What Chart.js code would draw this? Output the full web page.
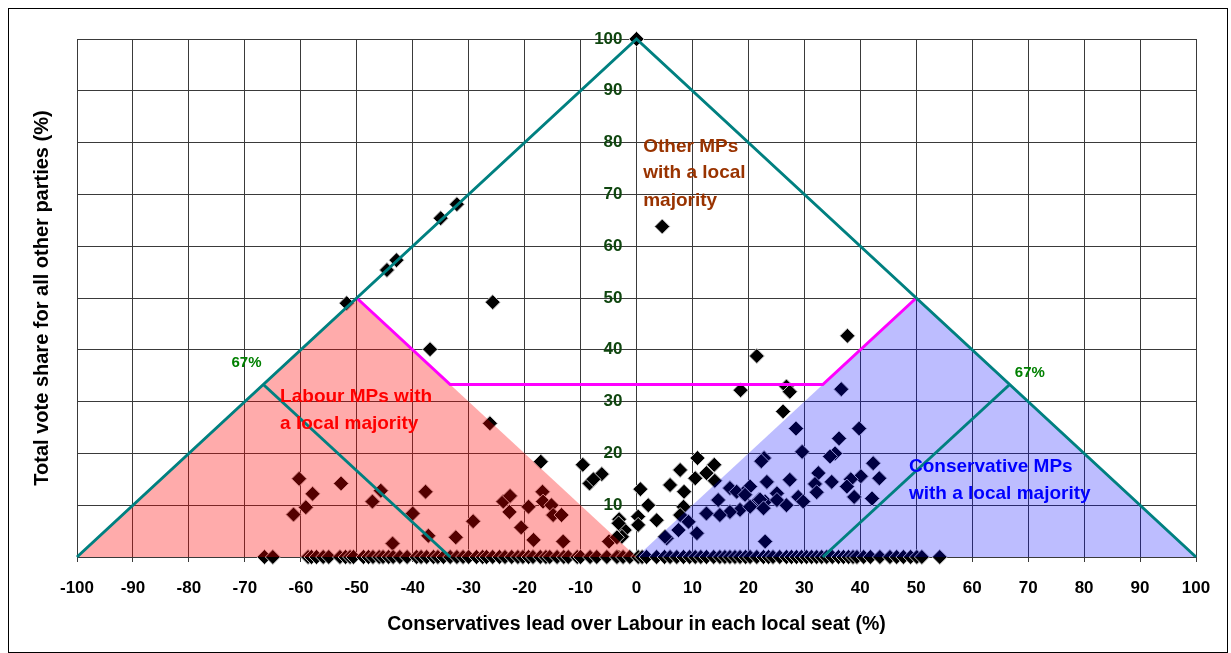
<!DOCTYPE html>
<html>
<head>
<meta charset="utf-8">
<script src="https://cdn.jsdelivr.net/npm/chart.js@4/dist/chart.umd.min.js"></script>
<style>
  html, body { margin: 0; padding: 0; background: #fff; }
  #wrap { position: relative; width: 1231px; height: 653px; }
  #frame { position: absolute; left: 8px; top: 8px; width: 1220px; height: 645px; border: 1px solid #000; box-sizing: border-box; pointer-events: none; }
</style>
</head>
<body>
<div id="wrap">
  <canvas id="chart" width="1231" height="653"></canvas>
  <div id="frame"></div>
</div>
<script>
// Conservative lead over Labour (%) and total share for all other parties (%), one entry per seat
const seatLead = [
  0, -35.0, -32.1, -25.7, 4.6, -44.6, -42.9, -51.8, -36.9, -26.2, -17.1, -9.6, -8.4, -6.2, -7.7,
  37.7, 21.5, 18.6, 26.8, 27.4, 36.6, 26.2, 28.5, 39.8, 36.2, 35.5, 34.6, 29.6, 22.8, 22.3,
  42.3, 43.4, 40.1, 38.3, 32.5, 31.9, 34.9, 37.6, 38.9, 42.1, 32.2, 27.4, 28.9, 29.8, 23.3,
  25.1, 23.0, 20.3, 19.1, 16.7, 21.8, 18.5, 16.7, 14.6, 14.9, 12.5, 9.3, 7.5, 5.4, 23.0,
  20.3, 26.8, 17.9, 19.4, 22.1, 22.7, 25.1,
  10.9, 7.8, 12.5, 13.9, 10.5, 14.0, 6.0, 8.5, 0.7, 2.1, 3.6, 0.3, 0.3, -3.1, -2.1, -2.6, 5.1,
  8.4, 7.8, 10.8, -3.2,
  -60.3, -57.9, -59.1, -61.3, -52.8, -45.7, -47.2, -40.0, -37.7, -37.2, -43.6, -32.3, -29.2,
  -23.8, -22.6, -22.7, -20.6, -19.3, -16.8, -16.7, -15.2, -14.9, -13.4, -18.4, -13.1, -4.9, -3.5
];
const otherShare = [
  100, 65.4, 68.1, 49.2, 63.8, 55.4, 57.3, 49.0, 40.1, 25.8, 18.4, 17.8, 14.2, 16.0, 15.0,
  42.7, 38.8, 32.2, 32.9, 31.9, 32.4, 28.1, 24.8, 24.8, 22.9, 20.0, 19.4, 20.3, 19.1, 18.5,
  18.1, 15.2, 15.6, 15.0, 16.2, 14.1, 14.5, 13.6, 11.6, 11.3, 12.5, 14.9, 11.6, 10.7, 14.5,
  12.3, 10.7, 13.6, 12.3, 13.3, 11.0, 9.1, 8.7, 11.0, 8.1, 8.4, 6.8, 5.2, 3.6, 3.0,
  9.7, 10.0, 12.6, 12.0, 11.1, 9.4, 11.0,
  19.1, 16.8, 16.2, 17.8, 15.2, 14.7, 13.9, 12.6, 13.1, 10.0, 7.1, 7.8, 6.2, 7.3, 5.2, 3.9, 3.9,
  9.7, 8.1, 4.6, 6.5,
  15.1, 12.2, 9.6, 8.2, 14.2, 12.8, 10.7, 8.4, 12.6, 4.1, 2.6, 3.8, 6.9,
  10.7, 11.8, 8.7, 5.7, 9.7, 12.6, 10.7, 10.0, 8.1, 8.1, 3.3, 3.0, 3.0, 3.8
];
// seats where all other parties share is close to 0: Conservative lead only
const zeroShareLead = [
  -66.5, -65.0, -58.7, -58.1, -57.2, -56.0, -55.0, -53.0, -52.0, -51.2, -50.6, -48.8, -47.9,
  -47.1, -46.0, -45.3, -44.3, -43.5, -42.3, -41.0, -39.3, -38.5, -37.5, -36.3, -35.5, -34.5,
  -33.3, -32.1, -31.0, -30.0, -28.6, -27.5, -26.8, -25.7, -24.5, -23.5, -22.3, -21.2, -20.3,
  -19.3, -18.5, -17.2, -16.2, -15.5, -14.2, -13.0, -12.2, -10.6, -10.0, -8.3, -7.1, -5.3, -3.5,
  -2.4, -1.2, 0.3, 1.0, 1.8, 3.6, 5.0, 6.0, 7.2, 8.4, 9.5, 10.5, 11.5, 12.5, 13.8, 14.9, 15.8,
  16.7, 17.6, 18.5, 19.5, 20.3, 21.5, 22.7, 23.6, 24.4, 25.6, 26.8, 27.7, 28.6, 29.5, 30.4,
  31.3, 32.2, 33.1, 34.0, 35.0, 36.1, 37.0, 37.9, 38.7, 39.4, 40.6, 41.8, 43.5, 45.3, 46.5,
  47.7, 49.0, 50.1, 51.0, 54.2
];

// boundary lines
const outerX = [-100, 0, 100];
const outerY = [0, 100, 0];
const labCutX = [-66.7, -33.3];
const labCutY = [33.3, 0];
const conCutX = [33.3, 66.7];
const conCutY = [0, 33.3];
const otherX = [-50, -33.3, 33.3, 50];
const otherY = [50, 33.3, 33.3, 50];
const labourX = [-100, -50, 0];
const labourY = [0, 50, 0];
const conX = [0, 50, 100];
const conY = [0, 50, 0];

const font = 'Liberation Sans, Arial, sans-serif';
const gridColor = '#3a3a3a';

function pts(xs, ys) {
  return xs.map((x, i) => ({ x: x, y: ys[i] }));
}

function line(xs, ys, color, order) {
  return {
    type: 'line', data: pts(xs, ys), borderColor: color, borderWidth: 3,
    pointRadius: 0, fill: false, order: order, clip: false, tension: 0
  };
}

function area(xs, ys, color, order) {
  return {
    type: 'line', data: pts(xs, ys), borderWidth: 0, borderColor: 'rgba(0,0,0,0)',
    backgroundColor: color, pointRadius: 0, fill: { value: -0.8 }, order: order, clip: false
  };
}

const seatPoints = pts(seatLead, otherShare).concat(zeroShareLead.map(x => ({ x: x, y: 0 })));

// text notes placed in data coordinates
const notes = [
  { text: 'Other MPs', x: 1.2, y: 79.2, color: '#993300', size: 19 },
  { text: 'with a local', x: 1.2, y: 74.1, color: '#993300', size: 19 },
  { text: 'majority', x: 1.2, y: 68.7, color: '#993300', size: 19 },
  { text: 'Labour MPs with', x: -63.7, y: 30.9, color: '#ff0000', size: 19 },
  { text: 'a local majority', x: -63.7, y: 25.7, color: '#ff0000', size: 19 },
  { text: 'Conservative MPs', x: 48.7, y: 17.4, color: '#0000ff', size: 19 },
  { text: 'with a local majority', x: 48.7, y: 12.3, color: '#0000ff', size: 19 },
  { text: '67%', x: -69.7, y: 37.5, color: '#008000', size: 15, center: true },
  { text: '67%', x: 70.3, y: 35.5, color: '#008000', size: 15, center: true }
];

const notesPlugin = {
  id: 'notes',
  afterDatasetsDraw(chart) {
    const ctx = chart.ctx;
    const sx = chart.scales.x, sy = chart.scales.y;
    ctx.save();
    notes.forEach(n => {
      ctx.font = 'bold ' + n.size + 'px ' + font;
      ctx.fillStyle = n.color;
      ctx.textAlign = n.center ? 'center' : 'left';
      ctx.textBaseline = 'middle';
      ctx.fillText(n.text, sx.getPixelForValue(n.x), sy.getPixelForValue(n.y));
    });
    ctx.restore();
  }
};

new Chart(document.getElementById('chart'), {
  type: 'scatter',
  data: {
    datasets: [
      line(outerX, outerY, '#008080', 0),
      line(labCutX, labCutY, '#008080', 0),
      line(conCutX, conCutY, '#008080', 0),
      line(otherX, otherY, '#ff00ff', 1),
      area(labourX, labourY, 'rgba(255,0,0,0.33)', 2),
      area(conX, conY, 'rgba(0,0,255,0.26)', 3),
      {
        type: 'scatter', data: seatPoints, order: 4,
        pointStyle: 'rectRot', pointRadius: 7.5, backgroundColor: '#000',
        borderColor: '#c4c4c4', borderWidth: 1, clip: false
      }
    ]
  },
  options: {
    responsive: false,
    animation: false,
    layout: { padding: { left: 0, right: 35, top: 39, bottom: 0 } },
    plugins: { legend: { display: false }, tooltip: { enabled: false } },
    scales: {
      x: {
        type: 'linear', position: 'bottom', min: -100, max: 100,
        ticks: { stepSize: 10, autoSkip: false, maxRotation: 0, padding: 16, color: '#000',
          font: { family: font, size: 17, weight: 'bold' } },
        grid: { color: gridColor, tickLength: 5 },
        border: { color: gridColor },
        title: { display: true, text: 'Conservatives lead over Labour in each local seat (%)',
          color: '#000', font: { family: font, size: 19.5, weight: 'bold' },
          padding: { top: 0, bottom: 17 } },
        afterFit: s => { s.height = 96; }
      },
      y: {
        // labels sit just left of the x = 0 grid line
        type: 'linear', position: { x: -2.5 }, min: 0, max: 100,
        ticks: { stepSize: 10, padding: 0, color: '#0f460f',
          font: { family: font, size: 17, weight: 'bold' } },
        grid: { color: gridColor, drawTicks: false },
        border: { display: false },
        afterFit: s => { s.width = 0; }
      },
      yTitle: {
        type: 'linear', position: 'left',
        ticks: { display: false },
        grid: { display: false, drawTicks: false },
        border: { display: false },
        title: { display: true, text: 'Total vote share for all other parties (%)',
          color: '#000', font: { family: font, size: 20, weight: 'bold' },
          padding: { top: 30, bottom: 0 } },
        afterFit: s => { s.width = 77; }
      }
    }
  },
  plugins: [notesPlugin]
});
</script>
</body>
</html>
